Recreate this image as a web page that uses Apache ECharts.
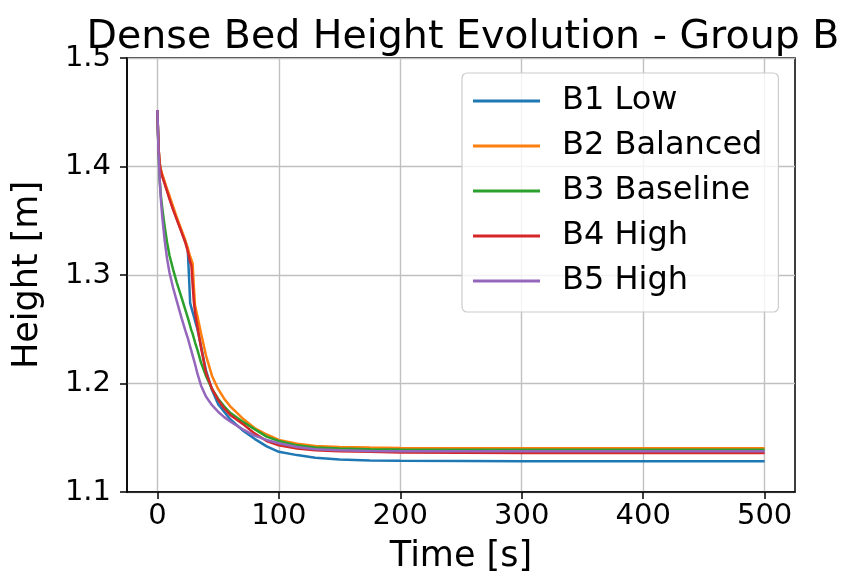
<!DOCTYPE html>
<html>
<head>
<meta charset="utf-8">
<script src="https://cdn.jsdelivr.net/npm/echarts@6/dist/echarts.min.js"></script>
<style>
  html, body { margin: 0; padding: 0; background: #ffffff; }
  #chart { width: 843px; height: 579px; }
</style>
</head>
<body>
<div id="chart"></div>
<script>
// Sample times [s]
const timeS = [0, 1, 2, 3, 4, 6, 8, 10, 13, 16, 20, 23, 25, 26, 27, 28, 29, 30, 31, 33,
  36, 40, 45, 50, 55, 60, 70, 80, 90, 100, 115, 130, 150, 175, 200, 250, 300, 400, 500];

// Dense bed height [m] per case
const b1Low = [1.452, 1.416, 1.402, 1.396, 1.392, 1.385, 1.378, 1.371, 1.361, 1.352,
  1.340, 1.331, 1.324, 1.300, 1.274, 1.270, 1.266, 1.262, 1.258, 1.250,
  1.234, 1.212, 1.194, 1.181, 1.174, 1.167, 1.157, 1.149, 1.142, 1.137,
  1.134, 1.1315, 1.130, 1.129, 1.1288, 1.1285, 1.1283, 1.1283, 1.1283];
const b2Balanced = [1.452, 1.416, 1.403, 1.397, 1.393, 1.386, 1.379, 1.373, 1.363, 1.353,
  1.341, 1.332, 1.325, 1.321, 1.317, 1.314, 1.311, 1.290, 1.272, 1.262,
  1.246, 1.226, 1.207, 1.195, 1.186, 1.179, 1.168, 1.159, 1.153, 1.148,
  1.1445, 1.1425, 1.1415, 1.141, 1.1406, 1.1404, 1.1403, 1.1403, 1.1403];
const b3Baseline = [1.452, 1.412, 1.386, 1.372, 1.362, 1.345, 1.330, 1.318, 1.305, 1.293,
  1.279, 1.268, 1.261, 1.257, 1.253, 1.249, 1.246, 1.242, 1.238, 1.231,
  1.219, 1.207, 1.195, 1.186, 1.179, 1.173, 1.165, 1.158, 1.151, 1.147,
  1.143, 1.141, 1.140, 1.1395, 1.1392, 1.139, 1.139, 1.139, 1.139];
const b4High = [1.452, 1.416, 1.401, 1.395, 1.391, 1.384, 1.377, 1.370, 1.360, 1.351,
  1.339, 1.330, 1.322, 1.317, 1.312, 1.309, 1.292, 1.276, 1.266, 1.252,
  1.233, 1.210, 1.195, 1.185, 1.177, 1.171, 1.163, 1.154, 1.147, 1.143,
  1.140, 1.1385, 1.1375, 1.137, 1.1365, 1.1362, 1.136, 1.136, 1.136];
const b5High = [1.452, 1.412, 1.386, 1.368, 1.354, 1.332, 1.315, 1.302, 1.288, 1.276,
  1.260, 1.249, 1.242, 1.238, 1.234, 1.230, 1.226, 1.222, 1.218, 1.209,
  1.198, 1.188, 1.180, 1.174, 1.169, 1.165, 1.158, 1.152, 1.148, 1.145,
  1.1415, 1.1395, 1.1385, 1.1378, 1.1376, 1.1375, 1.1375, 1.1375, 1.1375];

const seriesNames = ['B1 Low', 'B2 Balanced', 'B3 Baseline', 'B4 High', 'B5 High'];
const seriesValues = [b1Low, b2Balanced, b3Baseline, b4High, b5High];
const seriesColors = ['#1f77b4', '#ff7f0e', '#2ca02c', '#d62728', '#9467bd'];

const xTicks = [0, 100, 200, 300, 400, 500];
const yTicks = [1.1, 1.2, 1.3, 1.4, 1.5];

const FONT = 'DejaVu Sans';

const chart = echarts.init(document.getElementById('chart'), null, { renderer: 'canvas' });

const series = seriesNames.map((name, i) => ({
  name: name,
  type: 'line',
  data: timeS.map((t, k) => [t, seriesValues[i][k]]),
  showSymbol: false,
  symbol: 'none',
  smooth: false,
  lineStyle: { width: 2.5, color: seriesColors[i] },
  itemStyle: { color: seriesColors[i] },
  z: 3 + i,
  animation: false
}));

chart.setOption({
  animation: false,
  backgroundColor: '#ffffff',
  title: {
    text: 'Dense Bed Height Evolution - Group B',
    left: 458,
    top: 13,
    textAlign: 'center',
    textStyle: { fontFamily: FONT, fontSize: 39.5, fontWeight: 'normal', color: '#000' }
  },
  grid: {
    left: 127, right: 48, top: 58, bottom: 87,
    show: true, borderColor: '#000', borderWidth: 1.5, backgroundColor: 'transparent'
  },
  legend: {
    orient: 'vertical',
    left: 462,
    top: 73,
    padding: [12, 16, 15, 11],
    itemGap: 13,
    itemWidth: 67,
    itemHeight: 3,
    icon: 'rect',
    backgroundColor: 'rgba(255,255,255,0.8)',
    borderColor: '#cccccc',
    borderWidth: 1.2,
    borderRadius: 5,
    textStyle: { fontFamily: FONT, fontSize: 32, color: '#000', padding: [0, 0, 0, 17] },
    data: seriesNames
  },
  xAxis: {
    type: 'value',
    min: -25,
    max: 525,
    name: 'Time [s]',
    nameLocation: 'middle',
    nameGap: 47,
    nameTextStyle: { fontFamily: FONT, fontSize: 35, color: '#000' },
    axisLine: { show: true, onZero: false, lineStyle: { color: '#000', width: 1.5 } },
    axisTick: { show: true, length: 7, inside: false, customValues: xTicks, lineStyle: { color: '#000', width: 1.5 } },
    axisLabel: { customValues: xTicks, margin: 10, fontFamily: FONT, fontSize: 29, color: '#000' },
    splitLine: { show: true, lineStyle: { color: '#c0c0c0', width: 1.4 } }
  },
  yAxis: {
    type: 'value',
    min: 1.1,
    max: 1.5,
    interval: 0.1,
    name: 'Height [m]',
    nameLocation: 'middle',
    nameGap: 82,
    nameTextStyle: { fontFamily: FONT, fontSize: 35, color: '#000' },
    axisLine: { show: true, onZero: false, lineStyle: { color: '#000', width: 1.5 } },
    axisTick: { show: true, length: 7, inside: false, lineStyle: { color: '#000', width: 1.5 } },
    axisLabel: {
      margin: 16, fontFamily: FONT, fontSize: 29, color: '#000',
      formatter: v => (yTicks.some(t => Math.abs(t - v) < 1e-9) ? v.toFixed(1) : '')
    },
    splitLine: { show: true, lineStyle: { color: '#c0c0c0', width: 1.4 } }
  },
  series: series
});
</script>
</body>
</html>
